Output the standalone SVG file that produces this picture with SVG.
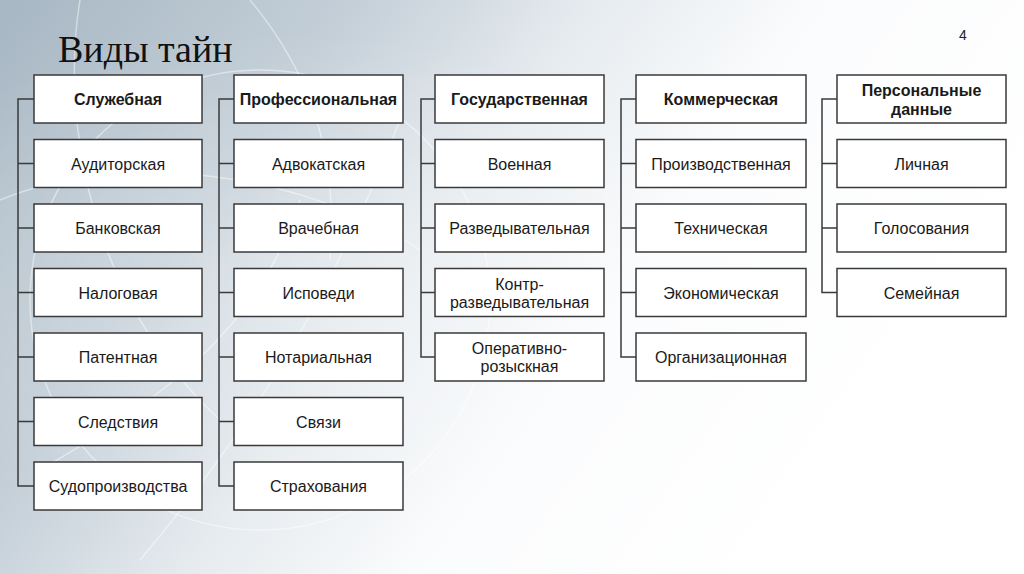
<svg xmlns="http://www.w3.org/2000/svg" width="1024" height="574" viewBox="0 0 1024 574">
<defs>
<linearGradient id="bg" x1="0" y1="0" x2="1" y2="0.4">
<stop offset="0" stop-color="#a7b7c3"/>
<stop offset="0.3" stop-color="#c4cfd8"/>
<stop offset="0.5" stop-color="#e6ebef"/>
<stop offset="0.7" stop-color="#fbfcfd"/>
<stop offset="1" stop-color="#ffffff"/>
</linearGradient>
<radialGradient id="glow" cx="0.28" cy="0.5" r="0.45">
<stop offset="0" stop-color="#ffffff" stop-opacity="0.3"/>
<stop offset="1" stop-color="#ffffff" stop-opacity="0"/>
</radialGradient>
<style>
.box{fill:#ffffff;stroke:#3a3a3a;stroke-width:1.5}
.t{font-family:"Liberation Sans",Arial,sans-serif;font-size:16px;fill:#1a1a1a;text-anchor:middle}
.h{font-weight:bold}
.bus{fill:none;stroke:#3a3a3a;stroke-width:1.5}
.net{fill:none;stroke:#ffffff;stroke-opacity:0.45;stroke-width:1.5}
</style>
</defs>
<rect width="1024" height="574" fill="url(#bg)"/>
<rect width="1024" height="574" fill="url(#glow)"/>
<g id="background-pattern">
<path class="net" d="M80 0 C 60 120, 90 300, 220 420"/>
<path class="net" d="M0 200 C 120 150, 300 170, 420 250"/>
<path class="net" d="M140 560 C 250 430, 330 300, 400 120"/>
<path class="net" d="M40 470 C 160 400, 260 330, 300 200"/>
<circle class="net" cx="260" cy="300" r="230"/>
<path class="net" d="M250 0 C 300 60, 340 140, 330 260"/>
</g>
<text x="58" y="62" font-family="'Liberation Serif','Times New Roman',serif" font-size="38" fill="#111111">Виды тайн</text>
<text x="963" y="40" font-family="'Liberation Sans',Arial,sans-serif" font-size="14" fill="#222222" text-anchor="middle">4</text>
<g id="connectors">
<path class="bus" d="M34 99 H18 V486 H34 M18 163.5 H34 M18 228 H34 M18 292.5 H34 M18 357 H34 M18 421.5 H34"/>
<path class="bus" d="M234 99 H219 V486 H234 M219 163.5 H234 M219 228 H234 M219 292.5 H234 M219 357 H234 M219 421.5 H234"/>
<path class="bus" d="M435 99 H421 V357 H435 M421 163.5 H435 M421 228 H435 M421 292.5 H435"/>
<path class="bus" d="M636 99 H621 V357 H636 M621 163.5 H636 M621 228 H636 M621 292.5 H636"/>
<path class="bus" d="M837 99 H822 V292.5 H837 M822 163.5 H837 M822 228 H837"/>
</g>
<g id="col1">
<g id="n-sluzhebnaya"><rect class="box" x="34" y="75" width="168" height="48"/><text class="t h" x="118" y="105">Служебная</text></g>
<g id="n-auditorskaya"><rect class="box" x="34" y="139.5" width="168" height="48"/><text class="t" x="118" y="169.5">Аудиторская</text></g>
<g id="n-bankovskaya"><rect class="box" x="34" y="204" width="168" height="48"/><text class="t" x="118" y="234">Банковская</text></g>
<g id="n-nalogovaya"><rect class="box" x="34" y="268.5" width="168" height="48"/><text class="t" x="118" y="298.5">Налоговая</text></g>
<g id="n-patentnaya"><rect class="box" x="34" y="333" width="168" height="48"/><text class="t" x="118" y="363">Патентная</text></g>
<g id="n-sledstviya"><rect class="box" x="34" y="397.5" width="168" height="48"/><text class="t" x="118" y="427.5">Следствия</text></g>
<g id="n-sudoproizvodstva"><rect class="box" x="34" y="462" width="168" height="48"/><text class="t" x="118" y="492">Судопроизводства</text></g>
</g>
<g id="col2">
<g id="n-professionalnaya"><rect class="box" x="234" y="75" width="169" height="48"/><text class="t h" x="318.5" y="105">Профессиональная</text></g>
<g id="n-advokatskaya"><rect class="box" x="234" y="139.5" width="169" height="48"/><text class="t" x="318.5" y="169.5">Адвокатская</text></g>
<g id="n-vrachebnaya"><rect class="box" x="234" y="204" width="169" height="48"/><text class="t" x="318.5" y="234">Врачебная</text></g>
<g id="n-ispovedi"><rect class="box" x="234" y="268.5" width="169" height="48"/><text class="t" x="318.5" y="298.5">Исповеди</text></g>
<g id="n-notarialnaya"><rect class="box" x="234" y="333" width="169" height="48"/><text class="t" x="318.5" y="363">Нотариальная</text></g>
<g id="n-svyazi"><rect class="box" x="234" y="397.5" width="169" height="48"/><text class="t" x="318.5" y="427.5">Связи</text></g>
<g id="n-strakhovaniya"><rect class="box" x="234" y="462" width="169" height="48"/><text class="t" x="318.5" y="492">Страхования</text></g>
</g>
<g id="col3">
<g id="n-gosudarstvennaya"><rect class="box" x="435" y="75" width="169" height="48"/><text class="t h" x="519.5" y="105">Государственная</text></g>
<g id="n-voennaya"><rect class="box" x="435" y="139.5" width="169" height="48"/><text class="t" x="519.5" y="169.5">Военная</text></g>
<g id="n-razvedyvatelnaya"><rect class="box" x="435" y="204" width="169" height="48"/><text class="t" x="519.5" y="234">Разведывательная</text></g>
<g id="n-kontrrazvedyvatelnaya"><rect class="box" x="435" y="268.5" width="169" height="48"/><text class="t" x="519.5" y="289.5">Контр-</text><text class="t" x="519.5" y="308">разведывательная</text></g>
<g id="n-operativno"><rect class="box" x="435" y="333" width="169" height="48"/><text class="t" x="519.5" y="353.5">Оперативно-</text><text class="t" x="519.5" y="372">розыскная</text></g>
</g>
<g id="col4">
<g id="n-kommercheskaya"><rect class="box" x="636" y="75" width="170" height="48"/><text class="t h" x="721" y="105">Коммерческая</text></g>
<g id="n-proizvodstvennaya"><rect class="box" x="636" y="139.5" width="170" height="48"/><text class="t" x="721" y="169.5">Производственная</text></g>
<g id="n-tekhnicheskaya"><rect class="box" x="636" y="204" width="170" height="48"/><text class="t" x="721" y="234">Техническая</text></g>
<g id="n-ekonomicheskaya"><rect class="box" x="636" y="268.5" width="170" height="48"/><text class="t" x="721" y="298.5">Экономическая</text></g>
<g id="n-organizatsionnaya"><rect class="box" x="636" y="333" width="170" height="48"/><text class="t" x="721" y="363">Организационная</text></g>
</g>
<g id="col5">
<g id="n-personalnye"><rect class="box" x="837" y="75" width="169" height="48"/><text class="t h" x="921.5" y="96">Персональные</text><text class="t h" x="921.5" y="114.5">данные</text></g>
<g id="n-lichnaya"><rect class="box" x="837" y="139.5" width="169" height="48"/><text class="t" x="921.5" y="169.5">Личная</text></g>
<g id="n-golosovaniya"><rect class="box" x="837" y="204" width="169" height="48"/><text class="t" x="921.5" y="234">Голосования</text></g>
<g id="n-semeynaya"><rect class="box" x="837" y="268.5" width="169" height="48"/><text class="t" x="921.5" y="298.5">Семейная</text></g>
</g>
</svg>
